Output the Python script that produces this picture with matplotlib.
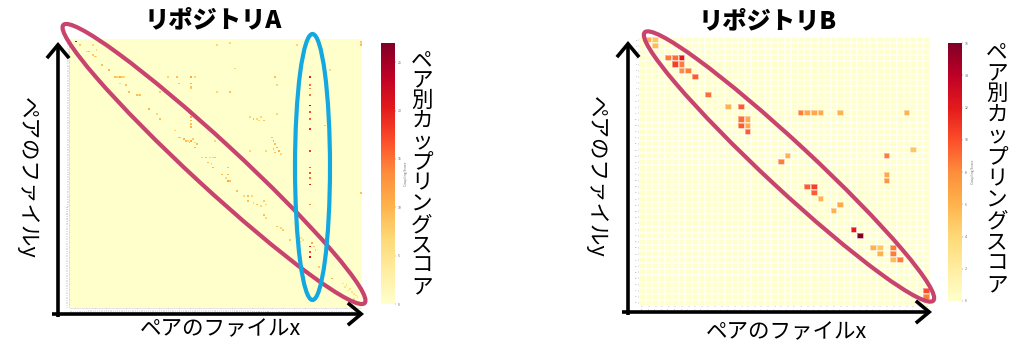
"""Coupling score heatmaps for two repositories, annotated slide style."""

import matplotlib

matplotlib.use("Agg")
import matplotlib.pyplot as plt
import numpy as np
from matplotlib.patches import Ellipse, FancyArrowPatch

plt.rcParams["font.family"] = ["Noto Sans CJK JP", "DejaVu Sans"]

W, H = 1024, 361

# --- repository A: 160 files, (row, col, score) ---
n_files_a = 160
max_score_a = 27
near_diag_a = [
    (1, 3, 22), (3, 5, 8), (3, 12, 7), (7, 9, 7), (7, 10, 9), (6, 14, 7),
    (9, 12, 8), (10, 13, 9), (10, 14, 7), (15, 17, 9), (18, 21, 10),
    (22, 24, 9), (22, 25, 8), (22, 26, 7), (22, 27, 10), (22, 28, 8), (22, 29, 7),
    (26, 27, 7), (27, 30, 9), (31, 32, 9), (33, 36, 9), (33, 37, 7), (33, 38, 9),
    (41, 43, 10), (44, 47, 7), (47, 49, 9), (54, 57, 7), (58, 59, 9),
    (58, 60, 9), (59, 62, 10), (60, 63, 9), (60, 64, 7), (61, 65, 10),
    (60, 66, 11), (59, 67, 8), (61, 68, 7), (62, 69, 9), (64, 68, 10),
    (70, 72, 7), (70, 74, 9), (70, 76, 7), (70, 79, 9), (73, 75, 9),
    (74, 77, 7), (76, 78, 10), (80, 83, 9), (82, 85, 7), (84, 87, 9),
    (80, 86, 10), (84, 86, 11), (90, 91, 9), (93, 95, 7), (93, 97, 9),
    (93, 99, 7), (96, 97, 9), (97, 100, 7), (98, 102, 9), (99, 104, 7),
    (96, 106, 8), (98, 107, 7), (104, 106, 9), (106, 107, 7), (111, 113, 9),
    (112, 115, 7), (113, 116, 8), (119, 120, 8), (118, 126, 5), (119, 127, 6),
    (120, 126, 5), (121, 132, 11), (123, 133, 8), (125, 134, 8), (135, 136, 8),
    (142, 143, 10), (145, 149, 5), (146, 151, 6), (147, 150, 5), (148, 153, 6),
    (149, 152, 5), (150, 154, 6), (151, 155, 5), (152, 156, 6), (153, 157, 5),
    (154, 155, 6),
]
off_diag_a = [
    (31, 49, 8), (22, 53, 7), (22, 58, 9), (26, 59, 8), (22, 66, 11),
    (26, 66, 10), (28, 66, 9), (29, 66, 8), (22, 68, 7), (42, 66, 10),
    (44, 66, 9), (46, 66, 11), (48, 66, 10), (50, 66, 9), (52, 66, 10),
    (3, 80, 7), (2, 87, 7), (17, 90, 7), (31, 80, 7), (31, 87, 9),
    (22, 112, 9), (27, 113, 7), (3, 124, 7), (3, 129, 16), (18, 142, 7),
    (1, 159, 9), (2, 159, 7), (3, 159, 9), (46, 98, 7), (47, 100, 9),
    (47, 102, 7), (46, 104, 7), (48, 106, 9), (48, 103, 7), (58, 110, 9),
    (60, 111, 10), (62, 112, 9), (64, 113, 11), (65, 111, 9), (66, 114, 10),
    (68, 115, 7), (67, 112, 9), (44, 113, 7), (66, 98, 7), (66, 107, 7),
    (51, 139, 8), (60, 79, 7), (70, 78, 7), (76, 86, 9), (91, 159, 9),
]
# one file (column 131) coupled with many others
hub_col_a = 131
hub_rows_a = [22, 27, 29, 33, 39, 43, 47, 53, 66, 76, 79, 82, 86, 98, 112, 123, 126, 129]
hub_scores_a = [20, 15, 14, 15, 23, 17, 16, 19, 18, 16, 17, 15, 20, 14, 13, 19, 17, 22]

# --- repository B: 44 files, (row, col, score) ---
n_files_b = 44
max_score_b = 16
near_diag_b = [
    (0, 1, 6), (0, 2, 5), (1, 2, 5.5), (3, 4, 8.5), (3, 5, 9), (3, 6, 12),
    (4, 5, 10.5), (4, 6, 8.5), (5, 6, 8), (5, 7, 8.5), (6, 8, 9.5), (9, 10, 9),
    (11, 13, 6), (11, 15, 9.5), (13, 15, 9), (13, 16, 6.5), (14, 15, 9.5),
    (14, 16, 6.5), (15, 16, 9.5), (19, 22, 6), (20, 21, 8.5), (24, 25, 9.5),
    (24, 26, 10.5), (25, 26, 9.5), (26, 27, 6), (27, 30, 6.5), (28, 29, 6),
    (31, 32, 12), (32, 33, 16), (34, 35, 6), (34, 36, 5), (35, 36, 6),
    (34, 38, 8.5), (35, 38, 8.5), (36, 38, 5.5), (36, 39, 8.5), (41, 43, 10),
    (42, 43, 8.5),
]
off_diag_b = [
    (12, 24, 8.5), (12, 25, 6.5), (12, 26, 6.5), (12, 27, 6.5), (12, 30, 6),
    (12, 40, 6), (18, 41, 5), (19, 37, 8.5), (22, 37, 6.5), (23, 37, 7.5),
]

cbar_title = "ペア別カップリングスコア"
axis_name_x = "ペアのファイルx"
axis_name_y = "ペアのファイルy"
ring_color = "#c8436e"
hub_ring_color = "#14a8e0"


def build_matrix(n, *groups):
    m = np.zeros((n, n))
    for group in groups:
        for r, c, v in group:
            m[r, c] = v
    return m


def px_axes(fig, left, top, right, bottom):
    """Axes placed by pixel box (top-left origin)."""
    return fig.add_axes([left / W, 1 - bottom / H, (right - left) / W, (bottom - top) / H])


def draw_heatmap(fig, box, cbox, m, vmax, cticks, tick_size, grid_lw):
    ax = px_axes(fig, *box)
    n = m.shape[0]
    mesh = ax.pcolormesh(m, cmap="YlOrRd", vmin=0, vmax=vmax,
                         edgecolors=(1, 1, 1, 0.45) if grid_lw else "face",
                         linewidth=grid_lw)
    ax.set_xlim(0, n)
    ax.set_ylim(n, 0)
    ax.set_xticks(np.arange(n) + 0.5)
    ax.set_yticks(np.arange(n) + 0.5)
    ax.set_xticklabels([str(i) for i in range(n)], rotation=90)
    ax.set_yticklabels([str(i) for i in range(n)])
    ax.tick_params(labelsize=tick_size, length=0.8, width=0.3, pad=0.5,
                   colors="#888888")
    for s in ax.spines.values():
        s.set_visible(False)

    cax = px_axes(fig, *cbox)
    cb = fig.colorbar(mesh, cax=cax, ticks=cticks)
    cb.outline.set_visible(False)
    cb.ax.tick_params(labelsize=2.5, length=1, width=0.3, pad=0.8, colors="#666666")
    cb.set_label("Coupling Score", fontsize=2.5, color="#666666", labelpad=2)
    return ax


def arrow(ov, start, end):
    ov.add_patch(FancyArrowPatch(
        start, end, arrowstyle="->,head_length=0.6,head_width=0.5",
        mutation_scale=16, lw=2.6, color="black", capstyle="butt",
        joinstyle="miter", shrinkA=0, shrinkB=0, zorder=3))


def stacked_label(ov, x, y_top, y_bottom, text):
    ys = np.linspace(y_top, y_bottom, len(text))
    for ch, y in zip(text, ys):
        ov.text(x, y, ch, fontsize=15.5, ha="center", va="center")


mat_a = build_matrix(n_files_a, near_diag_a, off_diag_a,
                     [(r, hub_col_a, v) for r, v in zip(hub_rows_a, hub_scores_a)])
mat_b = build_matrix(n_files_b, near_diag_b, off_diag_b)

fig = plt.figure(figsize=(W / 100, H / 100), dpi=100)

draw_heatmap(fig, (70, 39, 362, 308), (381, 43, 395, 304), mat_a,
             max_score_a, [0, 5, 10, 15, 20, 25], 0.8, 0)
draw_heatmap(fig, (639, 37, 930, 306), (948, 43, 962, 301), mat_b,
             max_score_b, list(range(0, 17, 2)), 1.6, 0.3)

# overlay in pixel coordinates for the slide annotations
ov = fig.add_axes([0, 0, 1, 1], zorder=10)
ov.set_xlim(0, W)
ov.set_ylim(H, 0)
ov.axis("off")

ov.text(213, 20, "リポジトリA", fontsize=17.5, fontweight="black", ha="center", va="center")
ov.text(768, 21, "リポジトリB", fontsize=17.5, fontweight="black", ha="center", va="center")

arrow(ov, (58, 317), (58, 42))
arrow(ov, (52, 314), (364, 314))
arrow(ov, (628, 315), (628, 41))
arrow(ov, (622, 312), (932, 312))

ov.text(220, 329, axis_name_x, fontsize=15.5, ha="center", va="center")
ov.text(786, 332, axis_name_x, fontsize=15.5, ha="center", va="center")
ov.text(27, 178, axis_name_y, fontsize=15.5, rotation=270, ha="center", va="center")
ov.text(596, 177, axis_name_y, fontsize=15.5, rotation=270, ha="center", va="center")

stacked_label(ov, 422, 60, 287, cbar_title)
stacked_label(ov, 997, 52, 285, cbar_title)

ov.add_patch(Ellipse((214, 164), 410, 46, angle=42.7, fill=False,
                     ec=ring_color, lw=3, zorder=4))
ov.add_patch(Ellipse((312.5, 167), 35, 266, fill=False,
                     ec=hub_ring_color, lw=3, zorder=5))
ov.add_patch(Ellipse((789, 166.5), 394, 46, angle=42.9, fill=False,
                     ec=ring_color, lw=3, zorder=4))

fig.savefig("out.png", dpi=100, facecolor="white")
